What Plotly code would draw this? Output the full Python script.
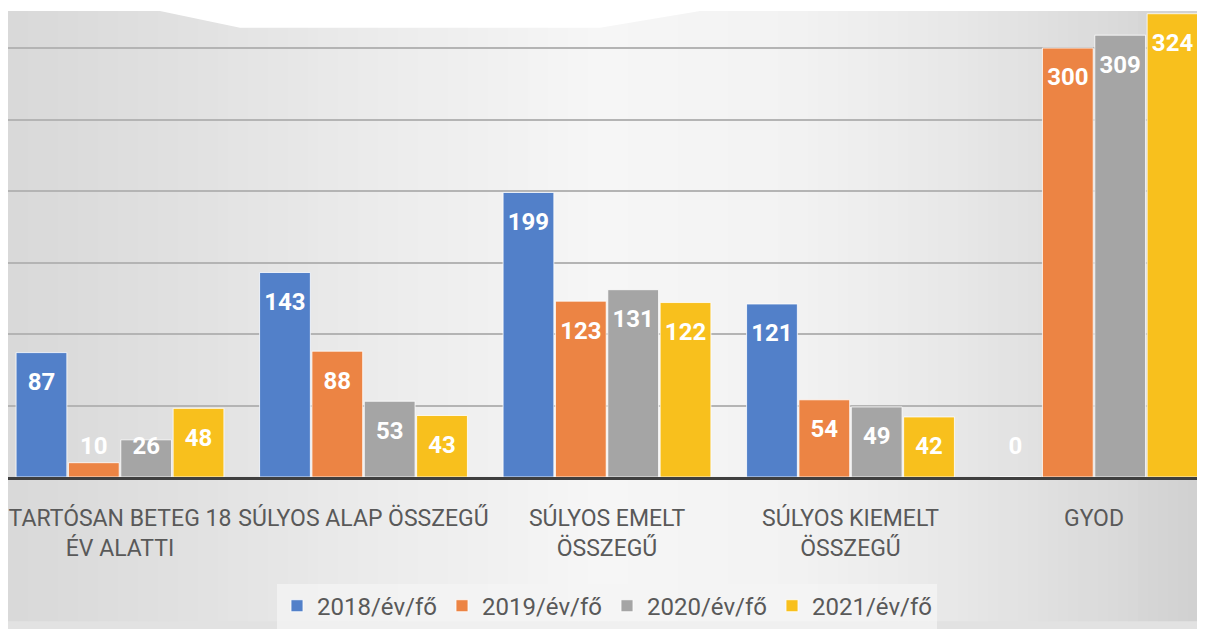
import plotly.graph_objects as go

# ---------------- data ----------------
categories = ["TARTÓSAN BETEG 18 ÉV ALATTI", "SÚLYOS ALAP ÖSSZEGŰ",
              "SÚLYOS EMELT ÖSSZEGŰ", "SÚLYOS KIEMELT ÖSSZEGŰ", "GYOD"]
tick_labels = ["TARTÓSAN BETEG 18<br>ÉV ALATTI", "SÚLYOS ALAP ÖSSZEGŰ",
               "SÚLYOS EMELT<br>ÖSSZEGŰ", "SÚLYOS KIEMELT<br>ÖSSZEGŰ", "GYOD"]
series_names = ["2018/év/fő", "2019/év/fő", "2020/év/fő", "2021/év/fő"]
v2018 = [87, 143, 199, 121, 0]
v2019 = [10, 88, 123, 54, 300]
v2020 = [26, 53, 131, 49, 309]
v2021 = [48, 43, 122, 42, 324]
series_values = [v2018, v2019, v2020, v2021]
colors = ["#5280c9", "#ec8444", "#a5a5a5", "#f8c01d"]

# ---------------- layout constants ----------------
# The page body has an 8px margin; the figure starts at page (8, 8)
OFF = 8
W, H = 1205 - 2 * OFF, 637 - 2 * OFF
BASE_Y = 483                      # page y of the category axis
ML, MR, MT = 0, 0, 0
MB = (OFF + H) - BASE_Y
YMAX = 328
BARGAP = 0.14
FONT = "Liberation Sans Narrow, Roboto, sans-serif"

fig = go.Figure()

for name, vals, col in zip(series_names, series_values, colors):
    fig.add_trace(go.Bar(
        name=name, x=categories, y=vals, offsetgroup=name,
        marker=dict(color=col, line=dict(color="rgba(255,255,255,0.8)", width=1)),
        hoverinfo="x+y",
    ))

# data labels (inside end, clamped near the base like the original)
for name, vals in zip(series_names, series_values):
    ypos = [max(v - 22, 20.5) for v in vals]
    fig.add_trace(go.Scatter(
        x=categories, y=ypos, mode="text", text=[str(v) for v in vals],
        offsetgroup=name, showlegend=False, hoverinfo="skip",
        textfont=dict(family=FONT, size=24, color="white", weight="bold"),
        cliponaxis=False,
    ))

# ---------------- background gradient (decorative) ----------------
plot_w = W - ML - MR
plot_h = H - MT - MB

def px_to_paper_x(px):       # px = page x
    return (px - OFF - ML) / plot_w

def px_to_paper_y(py):       # py = page y
    return (BASE_Y - py) / plot_h

stops = [(0, 216), (150, 223), (350, 234), (600, 246), (800, 242),
         (950, 232), (1100, 219), (1205, 208)]

def grey_at(px):
    for (x0, g0), (x1, g1) in zip(stops[:-1], stops[1:]):
        if x0 <= px <= x1:
            t = (px - x0) / (x1 - x0)
            return int(round(g0 + t * (g1 - g0)))
    return stops[-1][1]

shapes = []
step = 10
for px in range(OFF, OFF + W, step):
    g = grey_at(px + step / 2)
    shapes.append(dict(
        type="rect", xref="paper", yref="paper", layer="below",
        x0=px_to_paper_x(px), x1=px_to_paper_x(min(px + step + 0.5, OFF + W)),
        y0=px_to_paper_y(OFF + H), y1=px_to_paper_y(OFF),
        fillcolor=f"rgb({g},{g},{g})", line=dict(width=0),
    ))

def P(px, py):
    return f"{px_to_paper_x(px):.5f},{px_to_paper_y(py):.5f}"

# white top band of the screenshot
top_path = ("M " + P(OFF, OFF) + " L " + P(OFF + W, OFF) + " L " + P(OFF + W, 11)
            + " L " + P(700, 11) + " L " + P(600, 28) + " L " + P(240, 28)
            + " L " + P(160, 11) + " L " + P(OFF, 11) + " Z")
shapes.append(dict(type="path", xref="paper", yref="paper", layer="below",
                   path=top_path, fillcolor="white", line=dict(width=0)))

# category spacing: centre of first group at page x=120, 243.5 px per category
cat_px = 243.5
x0 = -(120 - OFF - ML) / cat_px
x1 = x0 + plot_w / cat_px

fig.update_layout(
    width=W, height=H,
    margin=dict(l=ML, r=MR, t=MT, b=MB, pad=0),
    paper_bgcolor="#e2e2e2", plot_bgcolor="rgba(0,0,0,0)",
    barmode="group", bargap=BARGAP, bargroupgap=0.03,
    scattermode="group", scattergap=BARGAP,
    shapes=shapes,
    showlegend=True,
    legend=dict(orientation="h", x=px_to_paper_x(607), xanchor="center",
                y=px_to_paper_y(591), yanchor="top",
                bgcolor="rgba(244,244,244,0.75)",
                font=dict(family=FONT, size=24, color="#595959"),
                itemwidth=30, traceorder="normal", tracegroupgap=0),
    xaxis=dict(range=[x0, x1], tickmode="array", tickvals=categories,
               ticktext=tick_labels, showgrid=False, showline=True,
               linecolor="#3f3f3f", linewidth=3, ticks="",
               ticklabelstandoff=18,
               tickfont=dict(family=FONT, size=23, color="#595959")),
    yaxis=dict(range=[0, YMAX], dtick=50, showticklabels=False,
               showgrid=True, gridcolor="#b4b4b4", gridwidth=2,
               zeroline=False, showline=False),
    hovermode="closest",
)

fig.write_html("out.html")
